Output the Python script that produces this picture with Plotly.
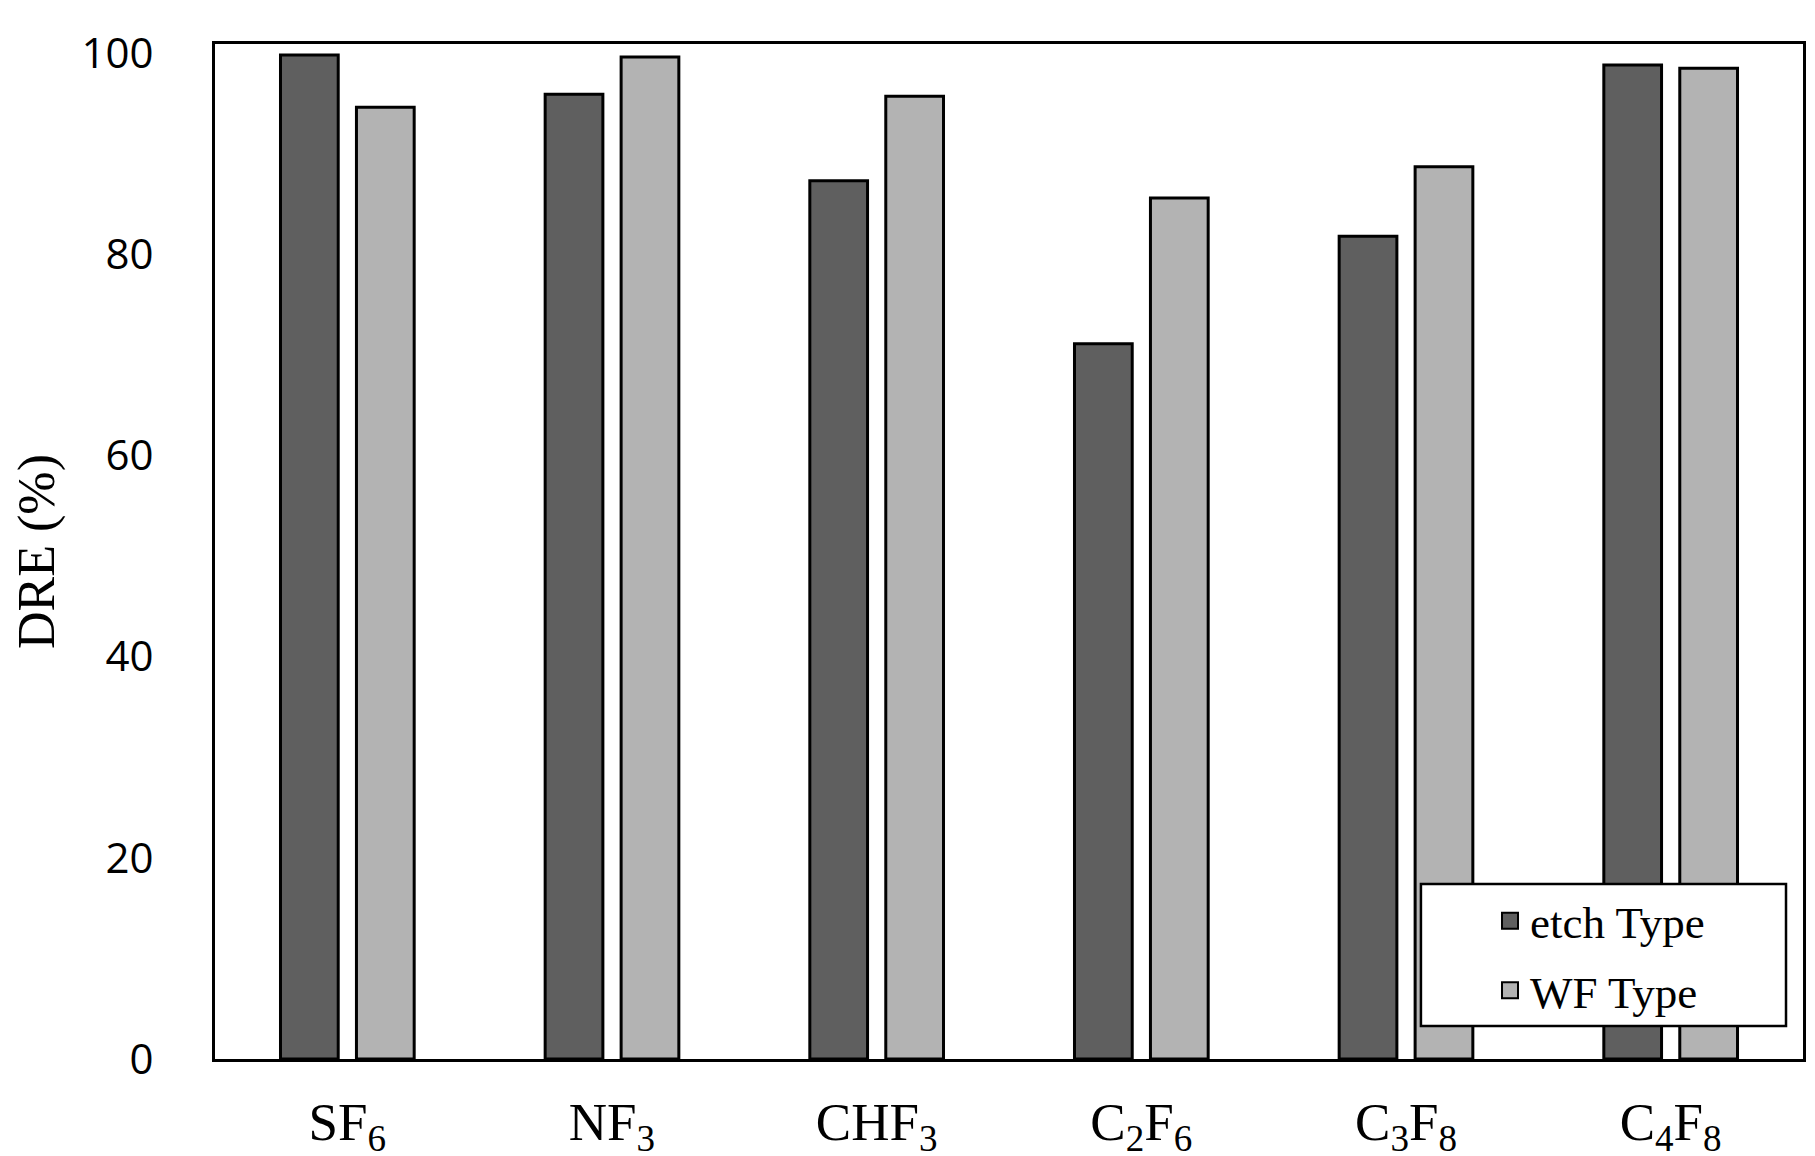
import plotly.graph_objects as go

categories = ["SF<sub>6</sub>", "NF<sub>3</sub>", "CHF<sub>3</sub>", "C<sub>2</sub>F<sub>6</sub>", "C<sub>3</sub>F<sub>8</sub>", "C<sub>4</sub>F<sub>8</sub>"]
etch_type = [99.8, 95.9, 87.3, 71.1, 81.8, 98.8]
wf_type = [94.6, 99.6, 95.7, 85.6, 88.7, 98.5]
y_ticks = [0, 20, 40, 60, 80, 100]

series = [("etch Type", etch_type, "#5f5f5f"), ("WF Type", wf_type, "#b3b3b3")]

fig = go.Figure()
for name, vals, col in series:
    fig.add_trace(go.Bar(
        x=categories, y=vals, name=name, showlegend=False,
        marker=dict(color=col, line=dict(color="black", width=3)),
    ))
for i, (name, vals, col) in enumerate(series):
    fig.add_trace(go.Scatter(
        x=[None], y=[None], mode="markers", name=name,
        legendgroup=f"g{i}",
        marker=dict(symbol="square", size=24, color=col, line=dict(color="black", width=2)),
    ))

# legend frame
fig.add_shape(
    type="rect", xref="paper", yref="paper",
    x0=0.7594, x1=0.9893, y0=0.0325, y1=0.1724,
    line=dict(color="black", width=2.5), fillcolor="white", layer="above",
)

fig.update_layout(
    width=1815, height=1156,
    margin=dict(l=207, r=20, t=36, b=105, autoexpand=False),
    plot_bgcolor="white", paper_bgcolor="white",
    barmode="group", bargap=0.426, bargroupgap=0.24,
    showlegend=True,
    legend=dict(
        x=0.8029, xanchor="left", y=0.1715, yanchor="top",
        borderwidth=0, bgcolor="rgba(0,0,0,0)",
        font=dict(family="Liberation Serif", size=45, color="black"),
        traceorder="grouped", tracegroupgap=8,
        itemsizing="trace",
    ),
    font=dict(color="black"),
)
fig.update_xaxes(
    showline=True, linecolor="black", linewidth=3, mirror=True,
    ticks="", showgrid=False, automargin=False,
    tickfont=dict(family="Liberation Serif", size=53, color="black"),
    ticklabelstandoff=14,
)
fig.update_yaxes(
    range=[0, 100.9], tickvals=y_ticks,
    showline=True, linecolor="black", linewidth=3, mirror=True,
    ticks="", showgrid=False, zeroline=False, automargin=False,
    tickfont=dict(family="Open Sans", size=42, color="black"),
    ticklabelstandoff=50,
    title=dict(text="DRE (%)", font=dict(family="Liberation Serif", size=52, color="black"), standoff=12),
)

fig.write_html("out.html")
